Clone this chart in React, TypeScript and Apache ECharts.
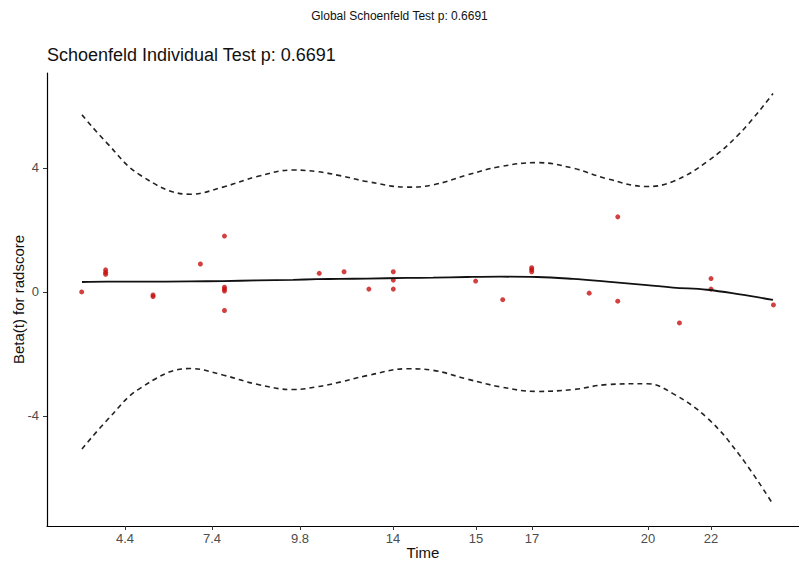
import React, { useEffect, useRef } from "react";
import * as echarts from "echarts";

// x positions are in the plot's transformed time scale (0..100 across the axis)
const tickPositions = [10.37, 21.94, 33.64, 46.01, 57.05, 64.49, 79.92, 88.3];
const tickLabels = ["4.4", "7.4", "9.8", "14", "15", "17", "20", "22"];

const yTicks = [-4, 0, 4];

const pointTime = [
  4.61, 7.8, 7.8, 7.8, 14.1, 14.1, 20.4, 23.6, 23.6, 23.6, 23.6, 23.6, 36.2, 39.5, 42.8,
  46.05, 46.05, 46.05, 57.0, 60.6, 64.45, 64.45, 64.45, 72.1, 75.9, 75.9, 84.1, 88.3, 88.3, 96.6,
];
const pointBeta = [
  0.0, 0.71, 0.63, 0.57, -0.1, -0.15, 0.9, 1.8, 0.15, 0.09, 0.03, -0.6, 0.6, 0.65, 0.09,
  0.65, 0.38, 0.09, 0.35, -0.25, 0.78, 0.72, 0.65, -0.04, 2.42, -0.3, -1.0, 0.43, 0.09, -0.42,
];

const fitTime = [
  4.65, 7.98, 12.37, 19.02, 23.4, 27.93, 32.71, 35.9, 38.96, 42.55, 47.87, 51.33,
  55.85, 60.24, 65.16, 69.95, 74.47, 79.79, 83.24, 87.77, 92.15, 96.54,
];
const fitBeta = [
  0.32, 0.33, 0.33, 0.34, 0.35, 0.37, 0.39, 0.41, 0.42, 0.43, 0.45, 0.46, 0.48, 0.49,
  0.48, 0.42, 0.33, 0.22, 0.14, 0.07, -0.08, -0.26,
];
const upperCI = [
  5.71, 4.8, 3.77, 3.15, 3.38, 3.72, 3.93, 3.88, 3.75, 3.56, 3.38, 3.45, 3.77, 4.04,
  4.17, 3.99, 3.65, 3.4, 3.56, 4.2, 5.12, 6.4,
];
const lowerCI = [
  -5.07, -4.14, -3.11, -2.47, -2.68, -2.98, -3.15, -3.06, -2.91, -2.7, -2.48, -2.53,
  -2.81, -3.06, -3.21, -3.15, -2.99, -2.96, -3.28, -4.06, -5.28, -6.85,
];

const FONT = "'Liberation Sans', Arial, sans-serif";

export default function App() {
  const ref = useRef<HTMLDivElement>(null);
  useEffect(() => {
    document.body.style.margin = "0";
    if (!ref.current) return;
    const chart = echarts.init(ref.current, null, { renderer: "svg" });
    const zip = (xs: number[], ys: number[]) => xs.map((x, i) => [x, ys[i]]);
    chart.setOption({
      animation: false,
      backgroundColor: "#ffffff",
      textStyle: { fontFamily: FONT },
      title: [
        {
          text: "Global Schoenfeld Test p: 0.6691",
          left: "center",
          top: 5,
          textStyle: { fontSize: 12, fontWeight: "normal", color: "#111", fontFamily: FONT },
        },
        {
          text: "Schoenfeld Individual Test p: 0.6691",
          left: 42,
          top: 41,
          textStyle: { fontSize: 18, fontWeight: "normal", color: "#111", fontFamily: FONT },
        },
      ],
      grid: { left: 47, right: 0, top: 73, bottom: 43, containLabel: false, outerBoundsMode: "none" },
      xAxis: {
        type: "value",
        min: 0,
        max: 100,
        name: "Time",
        nameLocation: "middle",
        nameGap: 19,
        nameMoveOverlap: false,
        nameTextStyle: { fontSize: 15, color: "#111", fontFamily: FONT },
        splitLine: { show: false },
        axisLine: { onZero: false, lineStyle: { color: "#000", width: 1.2 } },
        axisTick: { customValues: tickPositions, length: 4, lineStyle: { color: "#333" } },
        axisLabel: {
          customValues: tickPositions,
          margin: 6,
          fontSize: 13,
          color: "#4d4d4d",
          fontFamily: FONT,
          formatter: (v: number) => {
            const i = tickPositions.indexOf(v);
            return i >= 0 ? tickLabels[i] : "";
          },
        },
      },
      yAxis: {
        type: "value",
        min: -7.55,
        max: 7.06,
        name: "Beta(t) for radscore",
        nameLocation: "middle",
        nameGap: 21,
        nameMoveOverlap: false,
        nameTextStyle: { fontSize: 15, color: "#111", fontFamily: FONT },
        splitLine: { show: false },
        axisLine: { show: true, onZero: false, lineStyle: { color: "#000", width: 1.2 } },
        axisTick: { show: true, customValues: yTicks, length: 4, lineStyle: { color: "#333" } },
        axisLabel: {
          customValues: yTicks,
          margin: 8,
          fontSize: 13,
          color: "#4d4d4d",
          fontFamily: FONT,
        },
      },
      series: [
        {
          type: "line",
          data: zip(fitTime, upperCI),
          smooth: 0.4,
          showSymbol: false,
          lineStyle: { color: "#222", width: 1.6, type: [5, 4] },
        },
        {
          type: "line",
          data: zip(fitTime, lowerCI),
          smooth: 0.4,
          showSymbol: false,
          lineStyle: { color: "#222", width: 1.6, type: [5, 4] },
        },
        {
          type: "line",
          data: zip(fitTime, fitBeta),
          smooth: 0.4,
          showSymbol: false,
          lineStyle: { color: "#111", width: 1.8 },
        },
        {
          type: "scatter",
          data: zip(pointTime, pointBeta),
          symbolSize: 5,
          itemStyle: { color: "#c81010" },
        },
      ],
    });
    return () => chart.dispose();
  }, []);
  return <div ref={ref} style={{ width: 799, height: 569 }} />;
}
